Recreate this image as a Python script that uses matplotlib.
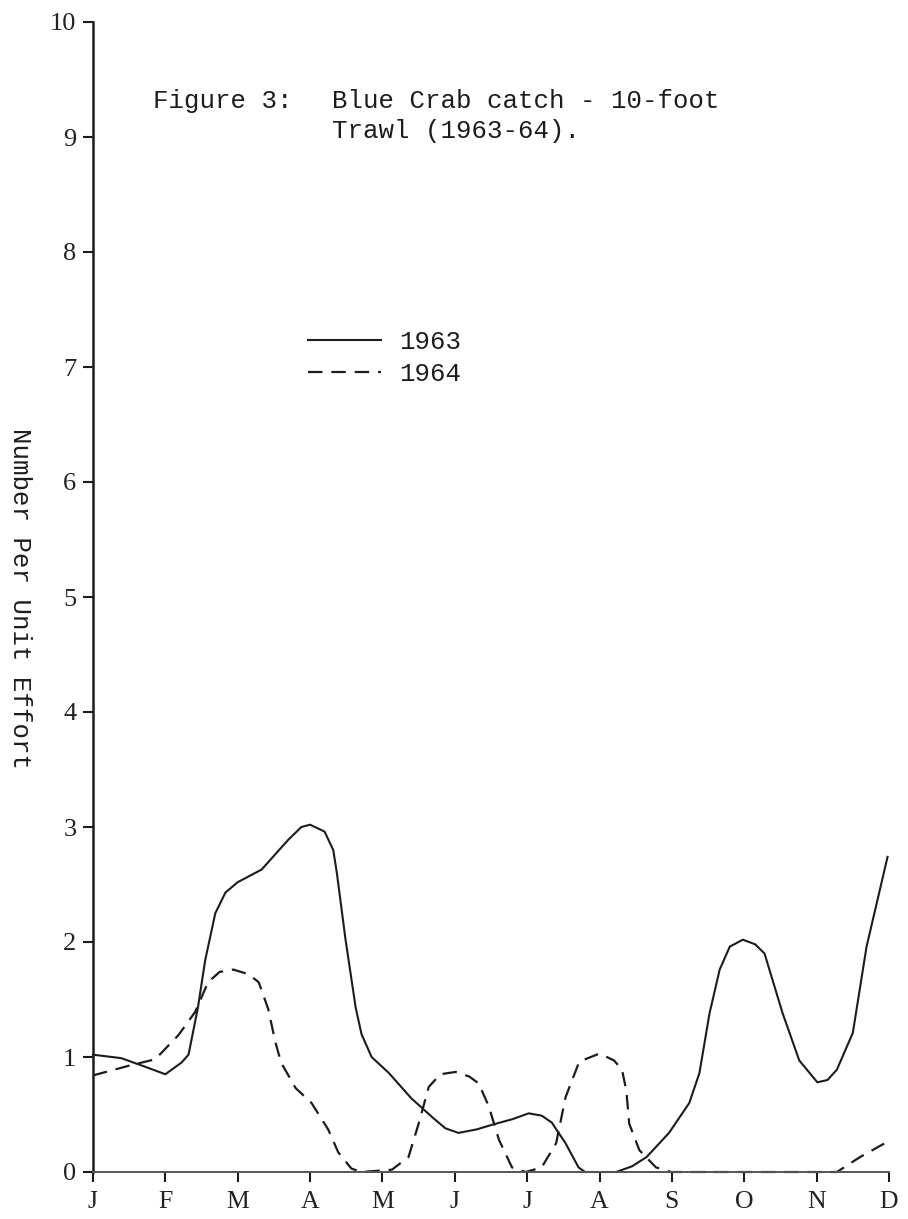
import matplotlib
matplotlib.use('Agg')
import matplotlib.pyplot as plt
from matplotlib.lines import Line2D

# month positions: 0 = Jan ... 11 = Dec
MONTH_LABELS = ['J', 'F', 'M', 'A', 'M', 'J', 'J', 'A', 'S', 'O', 'N', 'D']
Y_TICKS = list(range(0, 11))

# 1963 (solid)
x_1963 = [0.0, 0.39, 0.7, 1.0, 1.22, 1.32, 1.45, 1.55, 1.69, 1.83, 2.0, 2.33,
          2.7, 2.88, 3.0, 3.2, 3.32, 3.37, 3.49, 3.63, 3.71, 3.85, 4.09, 4.4,
          4.7, 4.87, 5.05, 5.3, 5.51, 5.8, 6.02, 6.2, 6.34, 6.53, 6.71, 6.8,
          7.23, 7.45, 7.65, 7.96, 8.24, 8.38, 8.52, 8.66, 8.8, 8.98, 9.15, 9.28,
          9.53, 9.76, 10.01, 10.15, 10.28, 10.5, 10.69, 10.98]
y_1963 = [1.02, 0.99, 0.92, 0.85, 0.95, 1.02, 1.43, 1.84, 2.25, 2.43, 2.52, 2.63,
          2.89, 3.0, 3.02, 2.96, 2.8, 2.6, 2.02, 1.43, 1.2, 1.0, 0.86, 0.64,
          0.47, 0.38, 0.34, 0.37, 0.41, 0.46, 0.51, 0.49, 0.43, 0.25, 0.04, 0.0,
          0.0, 0.05, 0.13, 0.34, 0.6, 0.86, 1.38, 1.76, 1.96, 2.02, 1.98, 1.9,
          1.38, 0.97, 0.78, 0.8, 0.89, 1.21, 1.96, 2.74]

# 1964 (dashed)
x_1964 = [0.0, 0.53, 0.86, 1.18, 1.41, 1.59, 1.75, 1.94, 2.15, 2.29, 2.42, 2.52,
          2.6, 2.8, 3.02, 3.25, 3.39, 3.57, 3.71, 4.13, 4.36, 4.5, 4.64, 4.8,
          5.01, 5.2, 5.33, 5.47, 5.61, 5.79, 5.98, 6.2, 6.4, 6.53, 6.72, 7.0,
          7.2, 7.31, 7.37, 7.41, 7.55, 7.78, 7.99, 10.28, 10.6, 10.97]
y_1964 = [0.84, 0.93, 0.98, 1.19, 1.39, 1.65, 1.74, 1.76, 1.72, 1.65, 1.42, 1.13,
          0.95, 0.73, 0.6, 0.37, 0.17, 0.03, 0.0, 0.02, 0.13, 0.42, 0.74, 0.85,
          0.87, 0.83, 0.77, 0.57, 0.28, 0.04, 0.0, 0.04, 0.25, 0.65, 0.96, 1.03,
          0.97, 0.89, 0.71, 0.42, 0.19, 0.04, 0.0, 0.0, 0.13, 0.26]

W, H = 908, 1219
INK = '#1c1c1c'
MONO = ['Liberation Mono', 'DejaVu Sans Mono']
SERIF = ['Liberation Serif', 'DejaVu Serif']
DASH = (6.5, 4)

fig = plt.figure(figsize=(W / 100, H / 100), dpi=100)
ax = fig.add_axes([93 / W, 1 - 1172 / H, (889 - 93) / W, (1172 - 22) / H])

ax.plot(x_1963, y_1963, color=INK, lw=1.5, clip_on=False, label='1963')
ax.plot(x_1964, y_1964, color=INK, lw=1.6, dashes=DASH, clip_on=False,
        label='1964')

ax.set_xlim(0, 11)
ax.set_ylim(0, 10)
ax.set_xticks(range(12))
ax.set_xticklabels(MONTH_LABELS, family=SERIF, fontsize=18.5)
ax.set_yticks(Y_TICKS)
ax.set_yticklabels([str(v) for v in Y_TICKS], family=SERIF, fontsize=19)
ax.tick_params(axis='both', direction='out', length=7, width=1.5, color=INK,
               labelcolor='#222222')
ax.tick_params(axis='x', pad=7)
ax.tick_params(axis='y', pad=5)

for side in ('top', 'right'):
    ax.spines[side].set_visible(False)
ax.spines['left'].set_linewidth(1.8)
ax.spines['left'].set_color(INK)
ax.spines['bottom'].set_linewidth(1.4)
ax.spines['bottom'].set_color('#555555')

# y label, reading top to bottom
fig.text(20 / W, 1 - 598 / H, 'Number Per Unit Effort', rotation=270,
         family=MONO, fontsize=18.5, color=INK, ha='center', va='center')

# figure caption
fig.text(153 / W, 1 - 108 / H, 'Figure 3:', family=MONO, fontsize=18.5,
         color=INK, ha='left', va='baseline')
fig.text(332 / W, 1 - 108 / H, 'Blue Crab catch - 10-foot', family=MONO,
         fontsize=18.5, color=INK, ha='left', va='baseline')
fig.text(332 / W, 1 - 138 / H, 'Trawl (1963-64).', family=MONO,
         fontsize=18.5, color=INK, ha='left', va='baseline')

handles = [Line2D([], [], color=INK, lw=1.5),
           Line2D([], [], color=INK, lw=1.6, dashes=DASH)]
leg = ax.legend(handles, ['1963', '1964'], loc='upper left',
                bbox_to_anchor=(308 / W, 1 - 330 / H),
                bbox_transform=fig.transFigure, frameon=False,
                prop={'family': MONO, 'size': 18.5}, handlelength=2.85,
                handletextpad=0.7, labelspacing=0.3, borderpad=0,
                borderaxespad=0)
for t in leg.get_texts():
    t.set_color(INK)

fig.savefig('out.png', dpi=100)
